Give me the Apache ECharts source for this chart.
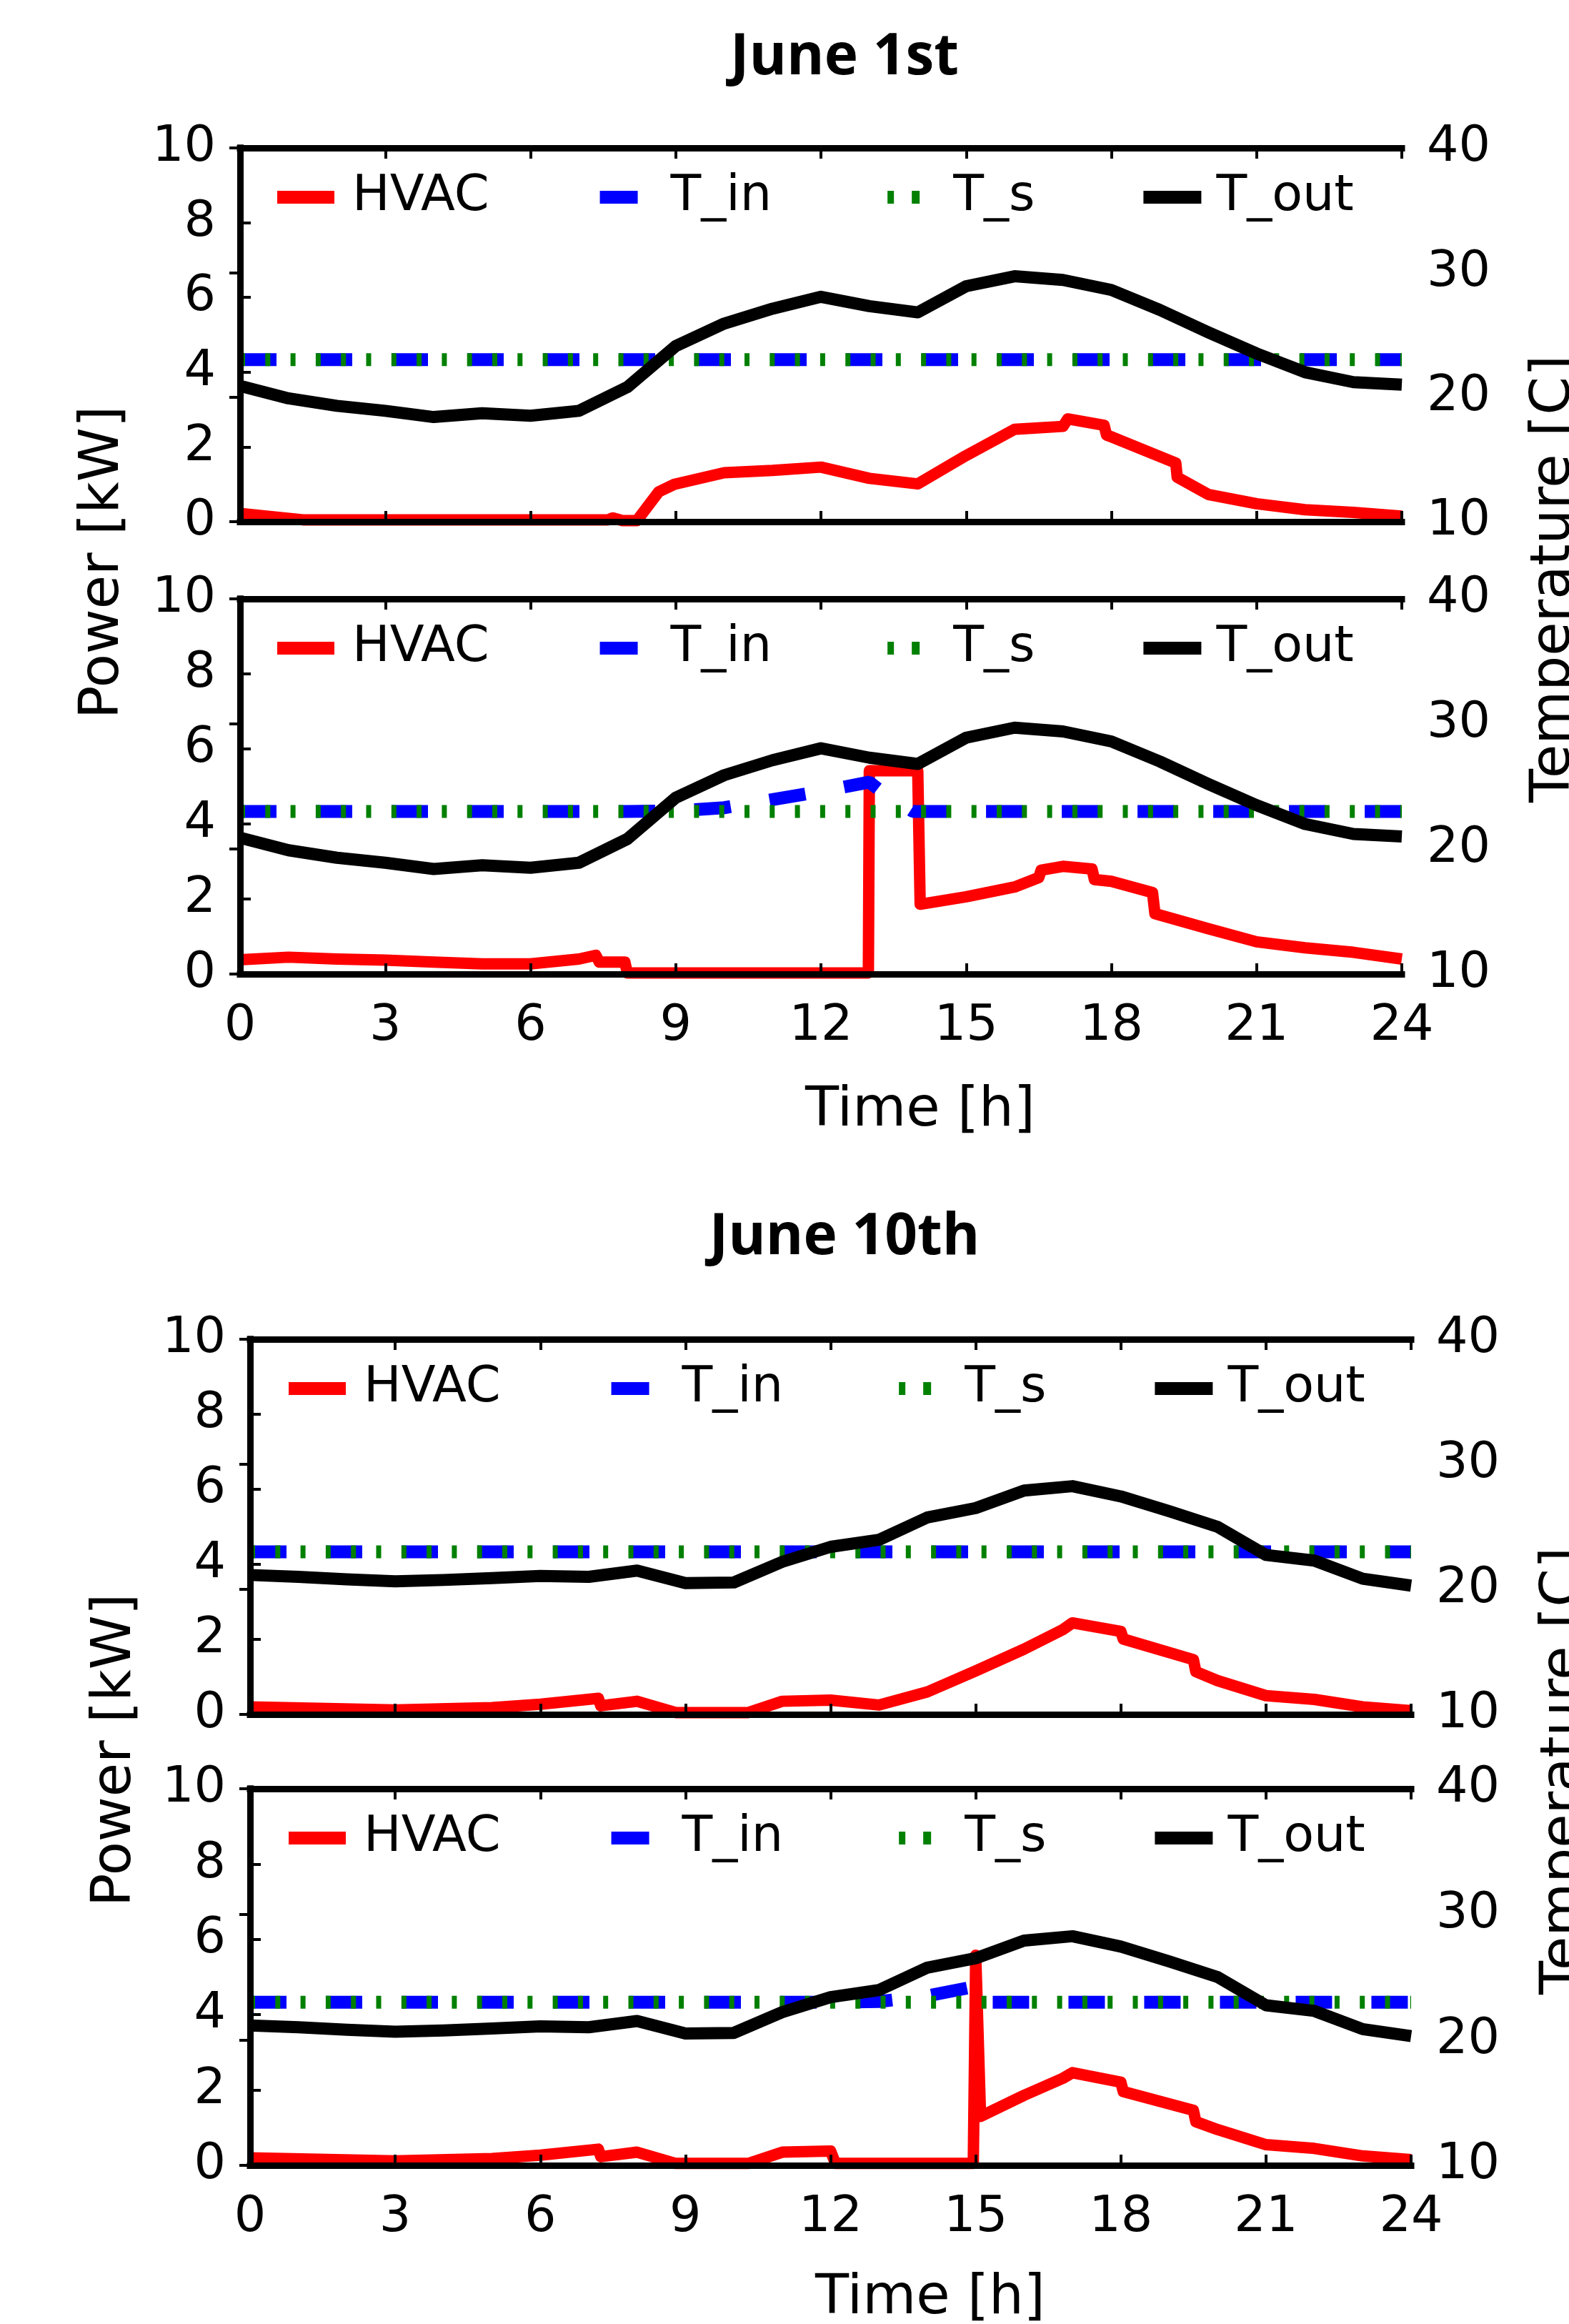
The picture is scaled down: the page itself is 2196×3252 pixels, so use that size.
<!DOCTYPE html>
<html>
<head>
<meta charset="utf-8">
<script src="https://cdn.jsdelivr.net/npm/echarts@6/dist/echarts.min.js"></script>
<style>
html,body{margin:0;padding:0;background:#fff;}
#chart{width:2196px;height:3252px;}
</style>
</head>
<body>
<div id="chart"></div>
<script>
// ---------- DATA ----------
const hours = [0,1,2,3,4,5,6,7,8,9,10,11,12,13,14,15,16,17,18,19,20,21,22,23,24];
const xTicks = [0,3,6,9,12,15,18,21,24];

// Outdoor temperature [C]
const tOutJune1  = [20.9,19.9,19.3,18.9,18.4,18.7,18.5,18.9,20.8,24.1,25.9,27.1,28.05,27.3,26.8,28.9,29.7,29.4,28.6,27.0,25.2,23.5,22.0,21.2,21.0];
const tOutJune10 = [21.15,21.0,20.8,20.64,20.75,20.9,21.07,21.0,21.5,20.5,20.55,22.2,23.4,23.96,25.75,26.5,27.9,28.25,27.43,26.25,25.0,22.75,22.3,20.85,20.3];

// Set-point temperature [C]
const tSetTime = [0, 24];
const tSetValue = [23, 23];

// June 1st, upper panel
const hvac1aTime  = [0,1.3,7.6,7.7,7.9,8.2,8.65,8.97,10,11,12,13,14,15,16,17,17.1,17.85,17.9,18,19.33,19.36,20,21,22,23,24];
const hvac1aValue = [0.22,0.05,0.05,0.1,0.03,0.03,0.8,1.0,1.31,1.37,1.46,1.16,1.01,1.77,2.47,2.55,2.75,2.58,2.32,2.27,1.57,1.19,0.73,0.48,0.32,0.25,0.15];
const tIn1aTime  = [0, 24];
const tIn1aValue = [23, 23];

// June 1st, lower panel
const hvac1bTime  = [0,1,2,3,4,5,6,7,7.35,7.42,7.95,8.0,12.98,13.0,14.0,14.05,15,16,16.5,16.55,17,17.6,17.65,18,18.85,18.9,20,21,22,23,24];
const hvac1bValue = [0.38,0.45,0.4,0.37,0.32,0.27,0.27,0.4,0.5,0.32,0.32,0.03,0.03,5.42,5.42,1.86,2.06,2.32,2.57,2.77,2.87,2.8,2.52,2.47,2.17,1.61,1.21,0.86,0.7,0.58,0.4];
const tIn1bTime  = [0,8,9,10,11,12,13,13.2,13.9,24];
const tIn1bValue = [23,23,23.05,23.3,23.95,24.6,25.35,24.75,23,23];

// June 10th, upper panel
const hvac10aTime  = [0,3,5,6,7.2,7.25,8,8.8,10.3,11,12,13,14,15,16,16.8,17,18,18.05,19.5,19.55,20,21,22,23,24];
const hvac10aValue = [0.2,0.12,0.18,0.27,0.43,0.23,0.35,0.05,0.05,0.35,0.38,0.25,0.6,1.16,1.74,2.26,2.44,2.21,2.01,1.46,1.14,0.9,0.5,0.4,0.2,0.1];
const tIn10aTime  = [0, 24];
const tIn10aValue = [23, 23];

// June 10th, lower panel
const hvac10bTime  = [0,3,5,6,7.2,7.25,8,8.8,10.3,11,12,12.1,14.95,15.0,15.1,16,16.8,17,18,18.05,19.5,19.55,20,21,22,23,24];
const hvac10bValue = [0.2,0.12,0.18,0.27,0.43,0.23,0.35,0.05,0.05,0.35,0.38,0.05,0.05,5.58,1.3,1.86,2.31,2.46,2.21,1.96,1.46,1.16,0.95,0.55,0.45,0.25,0.15];
const tIn10bTime  = [0,12,13,14,15.0,15.05,24];
const tIn10bValue = [23,23,23.05,23.5,24.25,23,23];

// ---------- BUILD ----------
const pairs = (ts, vs) => ts.map((t, i) => [t, vs[i]]);
const FONT = 'DejaVu Sans';

const panels = [
  {grid:{left:336, top:207, width:1626, height:523}, hT:hvac1aTime, hV:hvac1aValue, iT:tIn1aTime, iV:tIn1aValue, out:tOutJune1, showX:false, legLeft:388},
  {grid:{left:336, top:838, width:1626, height:525}, hT:hvac1bTime, hV:hvac1bValue, iT:tIn1bTime, iV:tIn1bValue, out:tOutJune1, showX:true, legLeft:388},
  {grid:{left:350, top:1874, width:1625, height:525}, hT:hvac10aTime, hV:hvac10aValue, iT:tIn10aTime, iV:tIn10aValue, out:tOutJune10, showX:false, legLeft:404},
  {grid:{left:350, top:2503, width:1625, height:527}, hT:hvac10bTime, hV:hvac10bValue, iT:tIn10bTime, iV:tIn10bValue, out:tOutJune10, showX:true, legLeft:404}
];

const axisLine = {show:true, lineStyle:{color:'#000', width:9, cap:'square'}};
const axisTick = {show:true, inside:true, length:15, lineStyle:{color:'#000', width:4}};
const labelBase = {color:'#000', fontSize:70, fontFamily:FONT};

const grids = [], xAxes = [], yAxes = [], series = [], legends = [];

// legend icons (path bounding box = 100 x 18)
const iconHVAC = 'path://M100,18 M0,0 L80,0 L80,18 L0,18 Z';
const iconTin  = 'path://M100,18 M0,0 M6,0 L59,0 L59,18 L6,18 Z';
const iconTs   = 'path://M100,18 M0,0 M13,0 L22,0 L22,18 L13,18 Z M47,0 L58,0 L58,18 L47,18 Z';
const iconTout = 'path://M100,18 M0,0 M3,0 L84,0 L84,18 L3,18 Z';

panels.forEach((p, i) => {
  grids.push(Object.assign({containLabel:false}, p.grid));
  xAxes.push({gridIndex:i, type:'value', position:'bottom', min:0, max:24, interval:3, z:10,
    axisLine, axisTick, splitLine:{show:false},
    axisLabel:Object.assign({show:p.showX, margin:39}, labelBase)});
  xAxes.push({gridIndex:i, type:'value', position:'top', min:0, max:24, interval:3, z:10,
    axisLine, axisTick, splitLine:{show:false}, axisLabel:{show:false}});
  yAxes.push({gridIndex:i, type:'value', position:'left', min:0, max:10, interval:2, z:10,
    axisLine, axisTick, splitLine:{show:false},
    axisLabel:Object.assign({margin:34}, labelBase)});
  yAxes.push({gridIndex:i, type:'value', position:'right', min:10, max:40, interval:10, z:10,
    axisLine, axisTick, splitLine:{show:false},
    axisLabel:Object.assign({margin:35}, labelBase)});

  const xi = 2*i, yl = 2*i, yr = 2*i+1;
  series.push({name:'HVAC', type:'line', xAxisIndex:xi, yAxisIndex:yl, data:pairs(p.hT, p.hV),
    symbol:'none', color:'#ff0000', z:2,
    lineStyle:{color:'#ff0000', width:16, join:'round'}});
  series.push({name:'T_in', type:'line', xAxisIndex:xi, yAxisIndex:yr, data:pairs(p.iT, p.iV),
    symbol:'none', color:'#0000ff', z:3,
    lineStyle:{color:'#0000ff', width:18, type:[51,55], cap:'butt'}});
  series.push({name:'T_s', type:'line', xAxisIndex:xi, yAxisIndex:yr, data:pairs(tSetTime, tSetValue),
    symbol:'none', color:'#008000', z:4,
    lineStyle:{color:'#008000', width:18, type:[7,28.3], cap:'butt'}});
  series.push({name:'T_out', type:'line', xAxisIndex:xi, yAxisIndex:yr, data:pairs(hours, p.out),
    symbol:'none', color:'#000000', z:5,
    lineStyle:{color:'#000000', width:17, join:'round'}});

  legends.push({left:p.legLeft, top:p.grid.top + 34, orient:'horizontal', padding:0,
    itemWidth:100, itemHeight:18, itemGap:149, selectedMode:false,
    itemStyle:{borderWidth:0},
    textStyle:{color:'#000', fontSize:70, fontFamily:FONT},
    data:[{name:'HVAC', icon:iconHVAC},{name:'T_in', icon:iconTin},{name:'T_s', icon:iconTs},{name:'T_out', icon:iconTout}]});
});

function txt(x, y, text, size, opts) {
  return Object.assign({type:'text', x:x, y:y, z:20, silent:true,
    style:{text:text, fill:'#000', fontSize:size, fontFamily:FONT, align:'center', verticalAlign:'middle'}}, opts || {});
}
const titleStyle = {fontWeight:'bold', fontFamily:'Open Sans'};
const graphics = [
  txt(1182, 81, 'June 1st', 80), txt(1182, 1732, 'June 10th', 80),
  txt(145, 787, 'Power [kW]', 77, {rotation:Math.PI/2}),
  txt(162, 2449, 'Power [kW]', 77, {rotation:Math.PI/2}),
  txt(2176, 810, 'Temperature [C]', 77, {rotation:Math.PI/2}),
  txt(2190, 2478, 'Temperature [C]', 77, {rotation:Math.PI/2}),
  txt(1288, 1555, 'Time [h]', 77),
  txt(1302, 3217, 'Time [h]', 77)
];
Object.assign(graphics[0].style, titleStyle);
Object.assign(graphics[1].style, titleStyle);

const chart = echarts.init(document.getElementById('chart'), null, {renderer:'canvas'});
chart.setOption({
  animation:false,
  backgroundColor:'#ffffff',
  grid:grids, xAxis:xAxes, yAxis:yAxes, series:series, legend:legends,
  graphic:graphics
});
</script>
</body>
</html>
